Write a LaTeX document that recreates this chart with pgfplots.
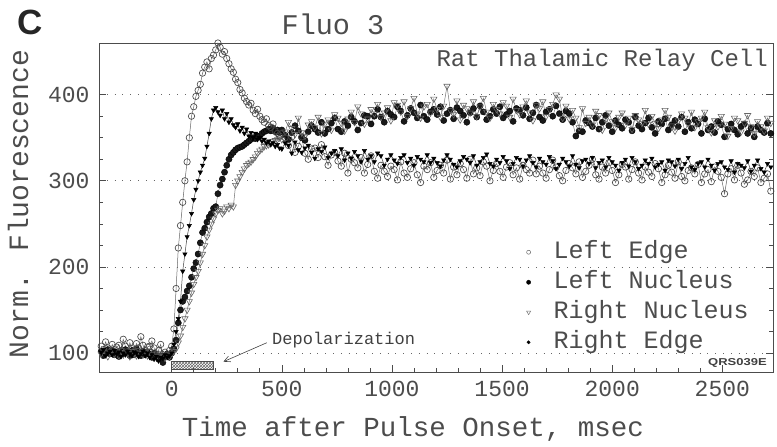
\documentclass[border=0pt]{standalone}
\usepackage{fontspec}
\setmainfont{Liberation Mono}
\newfontfamily\sansfont{Liberation Sans}
\usepackage{pgfplots}
\pgfplotsset{compat=1.18}
\usepackage{pgfplotstable}
\usetikzlibrary{patterns,arrows.meta}
\definecolor{txt}{gray}{0.3}

\pgfplotstableread{
t le ln rn re
-320 108 102 99 101
-310 104 97 103 104
-300 113 100 101 97
-290 106 104 96 100
-280 101 99 100 102
-270 110 103 104 98
-260 104 98 99 103
-250 107 101 102 99
-240 109 96 97 101
-230 103 102 103 96
-220 116 99 98 100
-210 108 104 101 98
-200 100 100 100 102
-190 112 97 96 99
-180 105 103 102 97
-170 102 98 99 101
-160 111 105 97 100
-150 106 100 103 96
-140 119 97 100 99
-130 109 102 98 102
-120 103 98 101 97
-110 107 101 97 100
-100 108 99 102 95
-90 114 95 99 98
-80 106 100 95 93
-70 99 97 98 96
-60 103 93 96 91
-50 110 96 100 95
-40 98 89 97 94
-30 101 96 94 98
-20 97 99 98 95
-10 103 95 96 97
0 108 100 100 100
10 128 105 102 110
20 175 115 105 125
30 222 135 112 140
40 248 150 120 160
50 275 160 130 195
60 300 165 140 215
70 322 172 150 235
80 350 178 160 248
90 375 188 170 262
100 386 198 180 278
110 398 205 188 290
120 405 215 195 300
130 412 228 205 310
140 425 240 215 318
150 432 245 225 326
160 438 252 235 340
170 430 258 243 355
180 442 262 250 372
190 446 268 256 382
200 452 270 262 385
210 460 285 266 380
220 455 295 268 376
230 447 302 262 382
240 450 310 265 372
250 442 318 270 378
260 436 325 268 368
270 430 330 272 372
280 426 333 270 365
290 418 336 295 362
300 414 338 300 366
310 406 339 305 358
320 402 340 310 362
330 396 342 314 355
340 392 344 318 360
350 388 346 320 352
360 390 348 322 356
370 382 350 325 350
380 378 349 328 355
390 383 352 332 348
400 375 352 335 350
410 371 355 337 346
420 368 357 340 348
430 372 358 341 344
440 364 360 342 346
450 362 358 344 342
460 366 361 346 344
470 358 357 347 340
480 355 359 348 342
490 352 356 350 338
500 355 359 348 337
515 350 353 357 344
530 341 348 368 341
545 351 356 361 332
560 333 364 354 345
575 340 358 373 336
590 351 350 356 333
605 332 347 352 338
620 325 357 365 341
635 337 364 369 333
650 338 360 362 326
665 327 356 374 337
680 342 368 355 334
695 328 355 366 339
710 318 360 371 327
725 330 367 359 332
740 333 373 377 335
755 323 360 373 329
770 317 357 367 337
785 332 369 358 324
800 309 364 372 332
815 325 374 380 326
830 321 369 368 334
845 315 359 386 329
860 327 367 378 322
875 309 376 366 335
890 319 375 372 325
905 329 366 383 329
920 311 375 378 322
935 303 383 389 332
950 318 374 374 329
965 311 368 379 318
980 305 381 385 325
995 317 377 370 330
1010 313 374 391 324
1025 301 386 388 320
1040 322 381 380 327
1055 309 369 392 330
1070 304 376 375 321
1085 314 384 384 326
1100 321 379 396 318
1115 307 373 378 328
1130 298 388 373 325
1145 317 375 386 322
1160 313 371 389 330
1175 321 380 379 321
1190 304 383 395 326
1205 312 377 383 321
1220 318 386 374 317
1235 309 370 387 324
1250 324 378 410 330
1265 302 382 382 325
1280 316 372 377 319
1295 307 385 393 316
1310 320 381 371 323
1325 313 376 388 328
1340 303 368 384 325
1355 325 379 379 321
1370 308 384 392 329
1385 315 374 375 318
1400 306 387 386 322
1415 322 380 396 327
1430 317 371 380 331
1445 300 375 373 320
1460 312 383 389 317
1475 320 378 383 325
1490 311 386 378 321
1505 304 373 391 328
1520 316 377 387 323
1535 321 381 374 314
1550 307 369 395 320
1565 315 384 382 327
1580 302 382 377 325
1595 318 376 386 317
1610 313 385 393 324
1625 309 372 379 329
1640 324 379 370 321
1655 308 388 388 316
1670 317 374 384 326
1685 309 370 392 322
1700 303 380 375 319
1715 313 383 383 328
1730 324 375 389 323
1745 316 387 400 314
1760 306 378 395 319
1775 300 371 373 326
1790 312 381 387 322
1805 320 378 372 317
1820 315 368 382 329
1835 308 352 373 319
1850 322 358 362 315
1865 304 357 384 323
1880 311 370 367 325
1895 318 367 374 320
1910 325 363 365 327
1925 307 373 381 315
1940 302 360 376 321
1955 316 368 359 324
1970 309 376 371 316
1985 321 364 379 327
2000 312 357 369 322
2015 298 370 362 318
2030 307 365 374 312
2045 319 361 379 321
2060 316 371 365 325
2075 302 368 373 317
2090 313 358 360 327
2105 322 374 376 322
2120 309 364 371 314
2135 301 360 367 318
2150 316 367 382 324
2165 310 373 366 320
2180 305 362 375 326
2195 320 355 367 316
2210 314 369 361 319
2225 298 366 371 322
2240 307 372 382 312
2255 318 359 374 324
2270 310 365 364 322
2285 303 370 358 317
2300 322 363 370 325
2315 305 374 378 314
2330 300 357 373 320
2345 312 368 366 327
2360 315 361 380 316
2375 308 371 362 313
2390 319 366 369 320
2405 298 355 373 322
2420 308 372 380 316
2435 313 359 362 325
2450 299 363 356 318
2465 316 356 370 312
2480 311 369 363 320
2495 304 365 375 322
2510 285 351 366 316
2525 308 360 352 313
2540 314 366 361 323
2555 301 359 373 310
2570 318 354 370 320
2585 309 363 357 318
2600 296 366 367 315
2615 301 355 376 323
2630 311 361 363 311
2645 305 351 355 318
2660 315 363 369 324
2675 298 359 363 314
2690 303 356 358 310
2705 308 367 373 320
2720 288 355 367 316
}\fluodata

\begin{document}
\begin{tikzpicture}
\path[use as bounding box] (0pt,0pt) rectangle (777pt,447pt);
\begin{axis}[
  at={(99pt,75pt)}, anchor=south west,
  scale only axis, width=674pt, height=329pt,
  xmin=-330, xmax=2730, ymin=78, ymax=460,
  xtick={0,500,1000,1500,2000,2500},
  ytick={100,200,300,400},
  minor x tick num=4, minor y tick num=3,
  xtick pos=left,
  tick align=inside,
  major tick length=7pt, minor tick length=4pt,
  every tick/.style={black!70, line width=0.6pt},
  axis line style={black!70, line width=0.8pt},
  ymajorgrids,
  major grid style={black!60, line width=0.8pt, dash pattern=on 0.8pt off 7pt},
  /pgf/number format/assume math mode=true,
  /pgf/number format/1000 sep={},
  ticklabel style={font=\fontsize{23}{26}\selectfont, text=txt},
  yticklabel style={xshift=-6pt},
  xticklabel style={yshift=-6pt},
  legend style={at={(0.634,0.398)}, anchor=north west, draw=none, fill=none,
    inner sep=0pt, row sep=8pt,
    font=\fontsize{25}{28}\selectfont, text=txt,
    nodes={inner sep=0pt, text height=17pt, text depth=5pt},
    /tikz/every odd column/.append style={column sep=23pt}},
  legend cell align=left,
]
% Left Nucleus
\addplot[forget plot, black!60, line width=0.4pt, mark=*, mark size=3.1,
  mark options={draw=black, fill=black!90, line width=0.4pt}] table[x=t,y=ln] {\fluodata};
% Right Nucleus
\addplot[forget plot, black!55, line width=0.5pt, mark=triangle, mark size=3.6,
  mark options={rotate=180, draw=black!60, fill=white, line width=0.6pt}] table[x=t,y=rn] {\fluodata};
% Left Edge
\addplot[forget plot, black!60, line width=0.5pt, mark=o, mark size=3.2,
  mark options={draw=black!72, fill=white, line width=0.65pt}] table[x=t,y=le] {\fluodata};
% Right Edge
\addplot[forget plot, black!75, line width=0.5pt, mark=triangle*, mark size=2.5,
  mark options={rotate=180, draw=black, fill=black}] table[x=t,y=re] {\fluodata};
% Depolarization bar
\addplot[forget plot, draw=black!70, line width=0.5pt, pattern=crosshatch, pattern color=black!60]
  coordinates {(0,81) (190,81) (190,90) (0,90) (0,81)};
\draw[black!75, line width=0.6pt, -{Straight Barb[length=6pt,width=6pt]}] (axis cs:432,112) -- (axis cs:235,90);
\addlegendimage{only marks, mark=o, mark size=2, mark options={draw=black!60, line width=0.5pt}}
\addlegendentry{Left Edge}
\addlegendimage{only marks, mark=*, mark size=2.1, mark options={draw=black, fill=black}}
\addlegendentry{Left Nucleus}
\addlegendimage{only marks, mark=triangle, mark size=2.4, mark options={rotate=180, draw=black!55, line width=0.5pt}}
\addlegendentry{Right Nucleus}
\addlegendimage{only marks, mark=*, mark size=1.6, mark options={draw=black, fill=black}}
\addlegendentry{Right Edge}
\end{axis}
\node[anchor=base west, inner sep=0pt, font=\sansfont\bfseries\fontsize{35}{38}\selectfont, text=black!85] at (17pt,412pt) {C};
\node[anchor=base, inner sep=0pt, font=\fontsize{28.5}{32}\selectfont, text=txt] at (333pt,412pt) {Fluo 3};
\node[anchor=base east, inner sep=0pt, font=\fontsize{24}{27}\selectfont, text=txt] at (768pt,380pt) {Rat Thalamic Relay Cell};
\node[anchor=base, rotate=90, inner sep=0pt, font=\fontsize{28}{31}\selectfont, text=txt] at (28pt,243pt) {Norm. Fluorescence};
\node[anchor=base, inner sep=0pt, font=\fontsize{27.5}{30}\selectfont, text=txt] at (413pt,10pt) {Time after Pulse Onset, msec};
\node[anchor=base west, inner sep=0pt, font=\fontsize{17}{19}\selectfont, text=black!75] at (272pt,102pt) {Depolarization};
\node[anchor=base east, inner sep=0pt, xscale=1.3, font=\sansfont\bfseries\fontsize{10}{11}\selectfont, text=black!75] at (767pt,81pt) {QRS039E};
\end{tikzpicture}
\end{document}
